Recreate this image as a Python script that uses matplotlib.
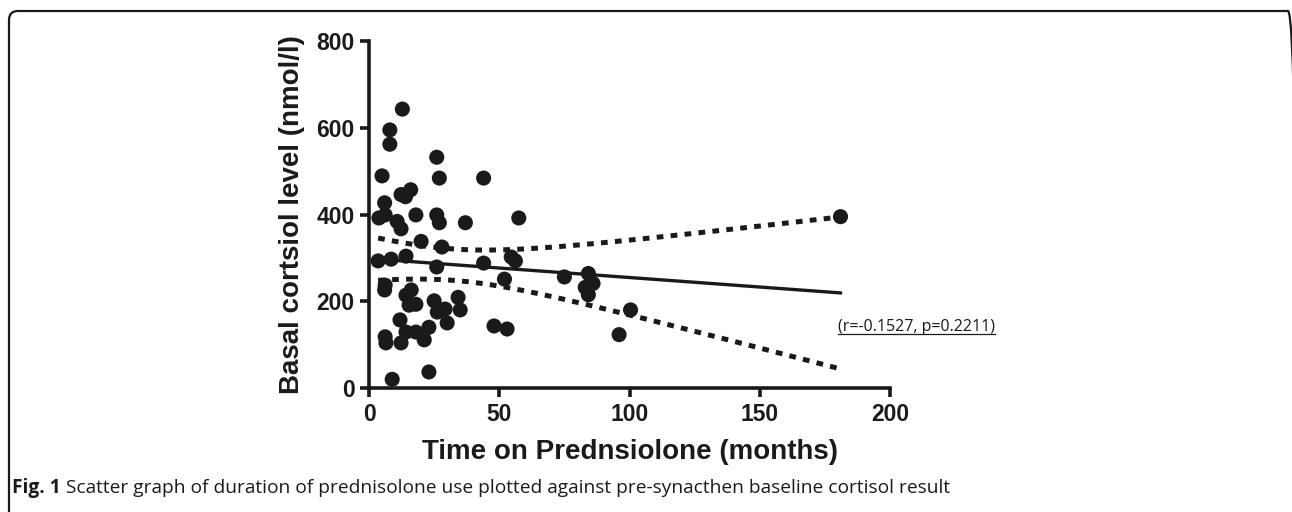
import numpy as np
import matplotlib
matplotlib.use("Agg")
import matplotlib.pyplot as plt
from matplotlib.patches import FancyBboxPatch
from matplotlib.transforms import IdentityTransform

# time on prednisolone (months) and basal cortisol (nmol/l)
months = np.array([12.8, 8.0, 8.0, 26.0, 5.0, 27.0, 44.0, 16.0, 12.3, 14.0,
                   6.0, 3.8, 6.2, 10.8, 12.3, 18.0, 26.0, 27.0, 37.0, 57.5,
                   20.0, 28.0, 14.2, 3.5, 8.5, 26.0, 44.0, 54.6, 56.2, 52.0,
                   75.0, 84.2, 86.0, 83.0, 84.2, 100.4, 96.0, 6.2, 6.0, 14.2,
                   16.2, 15.4, 18.0, 25.0, 34.2, 26.2, 29.2, 35.0, 30.0, 11.9,
                   48.0, 53.0, 14.2, 18.0, 23.0, 21.2, 6.2, 6.5, 12.3, 23.0,
                   8.9, 181.0])
cortisol = np.array([643, 595, 562, 532, 489, 484, 484, 457, 446, 441,
                     427, 392, 399, 384, 367, 399, 399, 381, 381, 392,
                     338, 325, 304, 293, 297, 279, 288, 302, 293, 251,
                     256, 264, 241, 232, 215, 180, 123, 237, 226, 214,
                     226, 191, 193, 201, 209, 175, 182, 180, 150, 157,
                     143, 136, 129, 129, 140, 111, 118, 104, 104, 37,
                     20, 395])

x_ticks = [0, 50, 100, 150, 200]
y_ticks = [0, 200, 400, 600, 800]
x_title = "Time on Prednsiolone (months)"
y_title = "Basal cortsiol level (nmol/l)"
stats_label = "(r=-0.1527, p=0.2211)"
caption_bold = "Fig. 1"
caption_rest = ("Scatter graph of duration of prednisolone use plotted against "
                "pre-synacthen baseline cortisol result")

plt.rcParams['font.family'] = ['Liberation Sans', 'DejaVu Sans']

W, H = 1292, 512
fig = plt.figure(figsize=(W / 100, H / 100), dpi=100)
fig.patch.set_facecolor("white")

# rounded frame around the figure panel (right and bottom edges fall off the image)
frame = FancyBboxPatch((9, -40), 1288, H - 11 + 40,
                       boxstyle="round,pad=0,rounding_size=9",
                       transform=IdentityTransform(), fill=False,
                       edgecolor="#1a1a1a", linewidth=1.6)
fig.patches.append(frame)

ax = fig.add_axes([369 / W, 1 - 388 / H, (890 - 369) / W, (388 - 41) / H])

ink = "#1a1a1a"
ax.scatter(months, cortisol, s=118, color=ink, edgecolors="none", zorder=3,
           clip_on=False)

# linear fit with 95% confidence band
n = len(months)
slope, intercept = np.polyfit(months, cortisol, 1)
xf = np.linspace(months.min(), months.max(), 200)
yf = intercept + slope * xf
resid = cortisol - (intercept + slope * months)
s = np.sqrt(np.sum(resid ** 2) / (n - 2))
xm = months.mean()
sxx = np.sum((months - xm) ** 2)
half = 2.0 * s * np.sqrt(1.0 / n + (xf - xm) ** 2 / sxx)

ax.plot(xf, yf, color=ink, linewidth=2.4, zorder=2)
for band in (yf + half, yf - half):
    ax.plot(xf, band, color=ink, linewidth=3.6, linestyle=(0, (1.35, 1.45)),
            dash_capstyle="butt", zorder=2)

ax.set_xlim(0, 200)
ax.set_ylim(0, 800)
ax.set_xticks(x_ticks)
ax.set_yticks(y_ticks)
for side in ("top", "right"):
    ax.spines[side].set_visible(False)
for side in ("left", "bottom"):
    ax.spines[side].set_linewidth(2.6)
    ax.spines[side].set_color(ink)
ax.tick_params(direction="out", length=6.5, width=2.6, color=ink,
               labelsize=16.5, pad=4)
for lab in ax.get_xticklabels() + ax.get_yticklabels():
    lab.set_fontweight("bold")
    lab.set_color(ink)

ax.set_xlabel(x_title, fontsize=20, fontweight="bold", color=ink, labelpad=10)
ax.set_ylabel(y_title, fontsize=20, fontweight="bold", color=ink, labelpad=8)

# underlined correlation note
note = fig.text(838 / W, 1 - 327 / H, stats_label, fontsize=11.5,
                family=["Open Sans", "DejaVu Sans"], color=ink, va="center")

# caption: bold figure number followed by regular text
cap1 = fig.text(12 / W, 1 - 488 / H, caption_bold, fontsize=13.8,
                fontweight="bold", family=["Open Sans", "DejaVu Sans"],
                color=ink, va="center")

fig.canvas.draw()
renderer = fig.canvas.get_renderer()
bb = note.get_window_extent(renderer)
fig.add_artist(plt.Line2D([bb.x0, bb.x1], [bb.y0 + 1, bb.y0 + 1],
                          transform=IdentityTransform(), color=ink,
                          linewidth=0.9))
bb1 = cap1.get_window_extent(renderer)
fig.text((bb1.x1 + 5) / W, 1 - 488 / H, caption_rest, fontsize=13.8,
         family=["Open Sans", "DejaVu Sans"], color=ink, va="center")

fig.savefig("out.png", dpi=100, facecolor="white")
